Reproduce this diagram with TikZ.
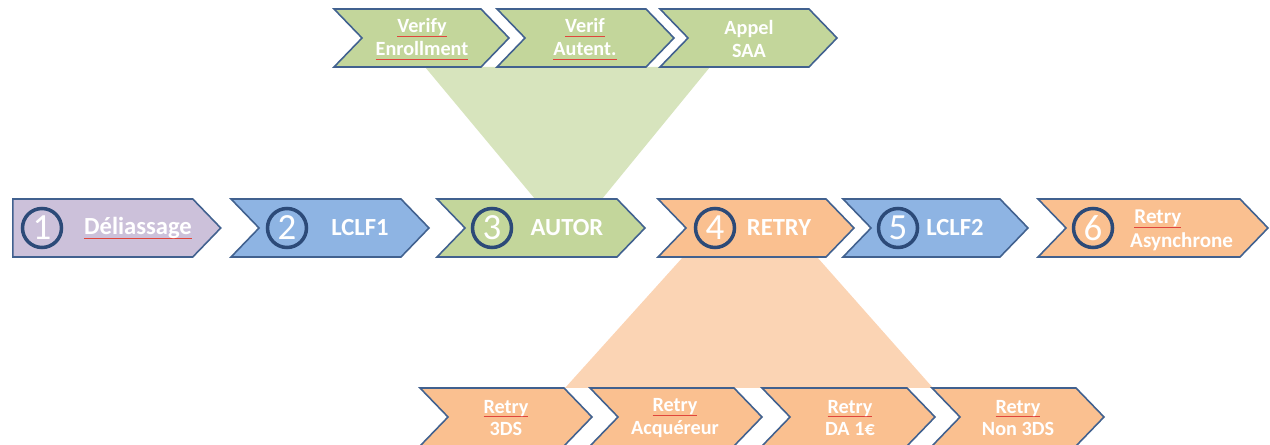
\documentclass[tikz,border=0pt]{standalone}
\usepackage{fontspec}
\setmainfont{Carlito}
\usetikzlibrary{shapes.symbols}

\definecolor{lilac}{HTML}{CCC1DA}
\definecolor{sky}{HTML}{8EB4E3}
\definecolor{leaf}{HTML}{C3D69B}
\definecolor{peach}{HTML}{FAC090}
\definecolor{leafpale}{HTML}{D7E4BD}
\definecolor{peachpale}{HTML}{FBD4B4}
\definecolor{edgeblue}{HTML}{41618F}
\definecolor{ringblue}{HTML}{2C4A78}
\definecolor{typored}{HTML}{E0453C}
% red spell-check mark under a word
\newcommand{\typo}[1]{\setbox0=\hbox{#1}\rlap{\textcolor{typored}{\rule[-2.5pt]{\wd0}{0.6pt}}}\box0}

\begin{document}
\begin{tikzpicture}[x=0.02cm,y=-0.02cm,
    chev/.style={signal, signal to=east, signal from=west, signal pointer angle=92,
      draw=edgeblue, line width=0.9pt, minimum height=1.16cm, inner sep=0pt},
    home/.style={chev, signal from=nowhere},
    num/.style={circle, draw=ringblue, line width=2pt, minimum size=0.78cm,
      inner sep=0pt, text=white, font=\fontsize{21}{21}\selectfont},
    lbl/.style={text=white, font=\fontsize{14}{16}\selectfont\bfseries},
    sub/.style={text=white, align=center, font=\fontsize{11.5}{13}\selectfont\bfseries}]
    \useasboundingbox (0,0) rectangle (1270,445);

    % zoom wedges
    \fill[leafpale] (425,67) -- (710,67) -- (602,199) -- (535,199) -- cycle;
    \fill[peachpale] (683,257) -- (817,257) -- (933,388) -- (565,388) -- cycle;

    % main row
    \node[home, fill=lilac, minimum width=4.16cm, anchor=west] (S1) at (12,228) {};
    \node[chev, fill=sky, minimum width=3.96cm] (S2) at (330,228) {};
    \node[chev, fill=leaf, minimum width=4.16cm] (S3) at (541,228) {};
    \node[chev, fill=peach, minimum width=3.92cm] (S4) at (756,228) {};
    \node[chev, fill=sky, minimum width=3.7cm] (S5) at (935.5,228) {};
    \node[chev, fill=peach, minimum width=4.6cm] (S6) at (1153,228) {};

    \node[num] (N1) at (42,228) {1};
    \node[num] (N2) at (287,228) {2};
    \node[num] (N3) at (492,228) {3};
    \node[num] (N4) at (715,228) {4};
    \node[num] (N5) at (898,228) {5};
    \node[num] (N6) at (1093,228) {6};

    \node[lbl] (L1) at (138,228) {\typo{Déliassage}};
    \node[lbl] (L2) at (360,228) {LCLF1};
    \node[lbl] (L3) at (567,228) {AUTOR};
    \node[lbl] (L4) at (779,228) {RETRY};
    \node[lbl] (L5) at (955,228) {LCLF2};
    \node[sub, align=left, anchor=west, font=\fontsize{12}{13.5}\selectfont\bfseries]
      (L6) at (1124,230) {\hspace*{0.2em}\typo{Retry}\\Asynchrone};

    % AUTOR detail
    \node[chev, fill=leaf, minimum width=3.5cm] (A1) at (421.5,38) {};
    \node[chev, fill=leaf, minimum width=3.54cm] (A2) at (585.5,38) {};
    \node[chev, fill=leaf, minimum width=3.54cm] (A3) at (748.5,38) {};
    \node[sub] (T1) at (422,39) {\typo{Verify}\\\typo{Enrollment}};
    \node[sub] (T2) at (585,39) {\typo{Verif}\\\typo{Autent.}};
    \node[sub] (T3) at (749,39) {Appel\\SAA};

    % RETRY detail
    \node[chev, fill=peach, minimum width=3.44cm] (R1) at (506,417) {};
    \node[chev, fill=peach, minimum width=3.44cm] (R2) at (676,417) {};
    \node[chev, fill=peach, minimum width=3.46cm] (R3) at (848.5,417) {};
    \node[chev, fill=peach, minimum width=3.44cm] (R4) at (1018,417) {};
    \node[sub] (U1) at (506,418) {\typo{Retry}\\3DS};
    \node[sub] (U2) at (675,418) {\typo{Retry}\\Acquéreur};
    \node[sub] (U3) at (850,418) {\typo{Retry}\\DA 1€};
    \node[sub] (U4) at (1018,418) {\typo{Retry}\\Non 3DS};
  \end{tikzpicture}
\end{document}
